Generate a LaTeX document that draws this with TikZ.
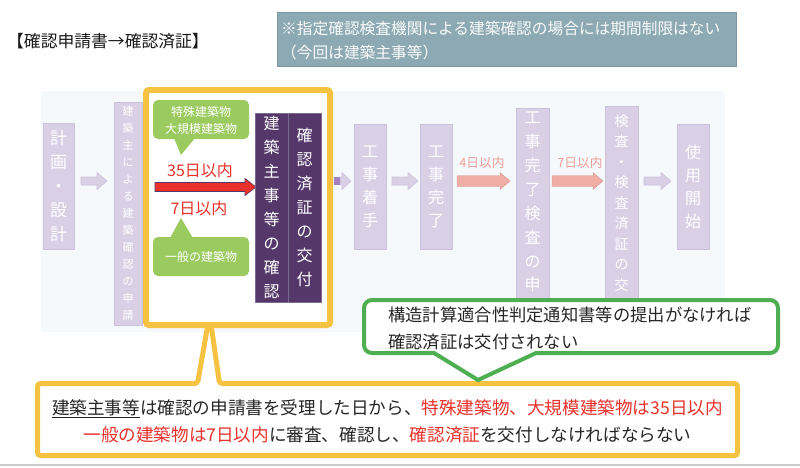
\documentclass[tikz,border=0pt]{standalone}
\usepackage{fontspec}
\setmainfont{Noto Sans CJK JP}
\definecolor{lpur}{HTML}{D9D0E6}
\definecolor{lpurb}{HTML}{CDC2DC}
\definecolor{dpur}{HTML}{553869}
\definecolor{dpurb}{HTML}{7D6A92}
\definecolor{gfill}{HTML}{9BCB5E}
\definecolor{ybord}{HTML}{F5C242}
\definecolor{gbord}{HTML}{4EAE52}
\definecolor{redt}{HTML}{E8322B}
\definecolor{pinkarr}{HTML}{F0ADA6}
\definecolor{pinktxt}{HTML}{F09E97}
\definecolor{notebg}{HTML}{8DAAB4}
\definecolor{noteb}{HTML}{7A98A2}
\definecolor{panel}{HTML}{F6F9FB}
\definecolor{midpur}{HTML}{A283BF}
\newcommand\fs[2]{\fontsize{#1}{#2}\selectfont}
\newcommand\blkarrow[7]{\filldraw[#7] ({#1},{#3-#4}) -- ({#2-#6},{#3-#4}) -- ({#2-#6},{#3-#5}) -- ({#2},{#3}) -- ({#2-#6},{#3+#5}) -- ({#2-#6},{#3+#4}) -- ({#1},{#3+#4}) -- cycle;}
\begin{document}
\begin{tikzpicture}[x=1pt,y=-1pt,
  lbox/.style={draw=lpurb, fill=lpur, text=white, align=center, inner sep=0pt, line width=0.8pt},
  dbox/.style={draw=dpurb, fill=dpur, text=white, align=center, inner sep=0pt, line width=0.8pt},
  larrow/.style={fill=lpur, draw=lpurb, line width=0.6pt},
  parrow/.style={fill=pinkarr, draw=pinkarr!90!black, line width=0.4pt},
  rarrow/.style={fill=redt, draw=dpur, line width=0.6pt},
  calltxt/.style={text=white, align=center, inner sep=0pt}]
\useasboundingbox (0,0) rectangle (800,467);
% title and note
\node[anchor=west, font=\fs{16.8}{17}, text=black!90, inner sep=0pt] (title) at (7,41) {【確認申請書→確認済証】};
\node[draw=noteb, fill=notebg, line width=0.8pt, minimum width=459pt, minimum height=54pt, inner sep=0pt] (note) at (506.5,39) {};
\node[anchor=west, align=left, font=\fs{15.7}{24}, text=white!95!notebg, inner sep=0pt] (notetxt) at (281,41) {※指定確認検査機関による建築確認の場合には期間制限はない\\（今回は建築主事等）};
% panel
\fill[panel] (41,91) rectangle (725,332);
% light boxes
\node[lbox, minimum width=31pt, minimum height=126pt, font=\fs{17}{24}] (plan) at (58.5,186) {計\\画\\・\\設\\計};
\node[lbox, minimum width=28pt, minimum height=223pt, font=\fs{11}{17}] (apply) at (128,213.5) {建\\築\\主\\に\\よ\\る\\建\\築\\確\\認\\の\\申\\請};
\node[lbox, minimum width=32pt, minimum height=125pt, font=\fs{16}{23}] (start) at (370,186.5) {工\\事\\着\\手};
\node[lbox, minimum width=32pt, minimum height=125pt, font=\fs{16}{23}] (done) at (436,186.5) {工\\事\\完\\了};
\node[lbox, minimum width=33pt, minimum height=212pt, font=\fs{16}{23.9}] (inspapp) at (532.5,214) {工\\事\\完\\了\\検\\査\\の\\申\\請};
\node[lbox, minimum width=33pt, minimum height=214pt, font=\fs{14}{20.5}] (inspcert) at (621.5,213) {検\\査\\・\\検\\査\\済\\証\\の\\交\\付};
\node[lbox, minimum width=32pt, minimum height=125pt, font=\fs{16}{23}] (use) at (693,186.5) {使\\用\\開\\始};
% arrows
\blkarrow{81}{107}{181}{4}{8.5}{10}{larrow}
\blkarrow{392}{418}{181}{4}{8.5}{10}{larrow}
\blkarrow{644}{671}{181}{4}{8.5}{10}{larrow}
\blkarrow{457}{510}{181}{5.5}{8.5}{10}{parrow}
\blkarrow{552}{603}{181}{5.5}{8.5}{10}{parrow}
\node[text=pinktxt, font=\fs{12.7}{13}, inner sep=0pt] (l4) at (482,163) {4日以内};
\node[text=pinktxt, font=\fs{12.7}{13}, inner sep=0pt] (l7b) at (580,163) {7日以内};
\blkarrow{340}{351}{181}{4}{8.5}{9}{larrow}
\fill[midpur] (334,177) rectangle (340,185);
% yellow box
\draw[ybord, line width=6pt, rounded corners=3, fill=white] (146,90) rectangle (330,325);
% callouts inside
\fill[gfill, rounded corners=5] (153,100) rectangle (249,139);
\fill[gfill] (174,138) -- (181,155) -- (195,138) -- cycle;
\node[calltxt, font=\fs{12}{17}] (cal1) at (201,120.5) {特殊建築物\\大規模建築物};
\fill[gfill, rounded corners=5] (153,237) rectangle (249,276);
\fill[gfill] (170,238) -- (181,218) -- (193,238) -- cycle;
\node[calltxt, font=\fs{12}{17}] (cal2) at (201,257) {一般の建築物};
\node[text=redt, font=\fs{16}{16}, inner sep=0pt] (d35) at (200,170) {35日以内};
\node[text=redt, font=\fs{16}{16}, inner sep=0pt] (d7) at (199,208) {7日以内};
\blkarrow{155}{256}{187}{4.5}{8.5}{11}{rarrow}
% dark box
\node[dbox, minimum width=33pt, minimum height=189pt, font=\fs{16}{23.9}] (check) at (271.5,207.5) {建\\築\\主\\事\\等\\の\\確\\認};
\node[dbox, minimum width=33pt, minimum height=189pt, font=\fs{16}{23.9}] (issue) at (304.5,207.5) {確\\認\\済\\証\\の\\交\\付};
% bottom yellow callout
\draw[ybord, line width=5pt, fill=white, rounded corners=3] (37.5,383.5) -- (197.5,383.5) -- (208,324) -- (211,324) -- (219.5,383.5) -- (737.5,383.5) -- (737.5,455.5) -- (37.5,455.5) -- cycle;
\fill[white] (150,316) rectangle (326,322);
\node[align=center, font=\fs{17.6}{27}, text=black!85, inner sep=0pt] (main) at (387.5,421.5) {\underline{建築主事等}は確認の申請書を受理した日から、\textcolor{redt}{特殊建築物、大規模建築物は35日以内}\\\textcolor{redt}{一般の建築物は7日以内}に審査、確認し、\textcolor{redt}{確認済証}を交付しなければならない};
% green callout
\fill[white, rounded corners=8] (364,300) rectangle (778,353);
\fill[white] (434,352) -- (478,380) -- (536,352) -- cycle;
\draw[gbord, line width=4pt, rounded corners=8, line cap=round] (536,353) -- (778,353) -- (778,300) -- (364,300) -- (364,353) -- (434,353);
\draw[gbord, line width=4pt, line cap=round, line join=round] (434,353) -- (478,380) -- (536,353);
\node[anchor=west, align=left, font=\fs{17.3}{27}, text=black!85, inner sep=0pt] (gtxt) at (388,328.5) {構造計算適合性判定通知書等の提出がなければ\\確認済証は交付されない};
% bottom edge line
\fill[black!20] (0,463.5) rectangle (800,465.5);
\end{tikzpicture}
\end{document}
